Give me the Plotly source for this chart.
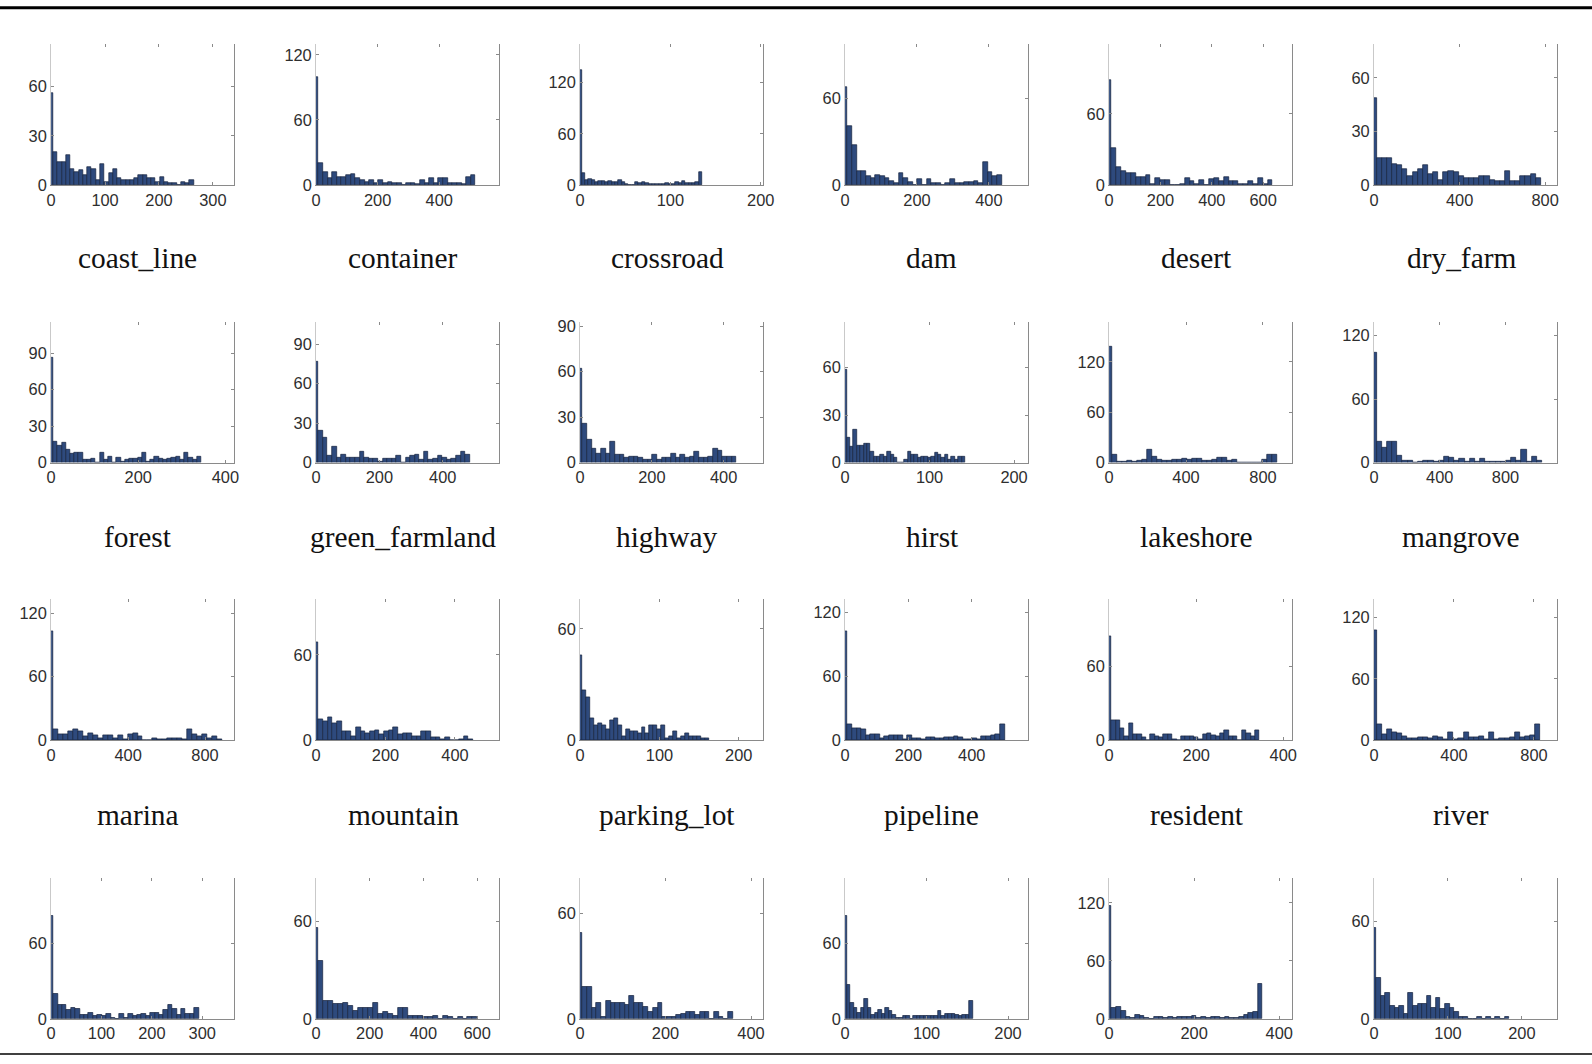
import plotly.graph_objects as go

# ---------------------------------------------------------------- data
categories = [
    "coast_line", "container", "crossroad", "dam", "desert", "dry_farm",
    "forest", "green_farmland", "highway", "hirst", "lakeshore", "mangrove",
    "marina", "mountain", "parking_lot", "pipeline", "resident", "river",
    "", "", "", "", "", "",
]

# histogram counts per class (first bin is centred on 0)
coast_line = [56, 20, 14, 14, 18, 10, 8, 9, 6, 11, 10, 3, 13, 2, 7, 10, 4, 3, 3, 3,
              4, 6, 6, 4, 4, 2, 5, 2, 1, 1, 0, 2, 1, 3]
container = [100, 20, 12, 6, 12, 7, 7, 9, 10, 6, 5, 3, 5, 2, 5, 2, 3, 2, 2, 0,
             2, 2, 1, 5, 2, 6, 2, 6, 6, 2, 2, 2, 1, 7, 9]
crossroad = [135, 14, 6, 7, 6, 4, 5, 5, 3, 5, 3, 4, 6, 3, 1, 0, 0, 4, 2, 4,
             2, 1, 1, 1, 1, 1, 2, 1, 1, 3, 2, 5, 2, 2, 2, 3, 15]
dam = [68, 41, 28, 10, 10, 6, 5, 7, 6, 5, 3, 1, 8, 5, 2, 0, 4, 0, 4, 1,
       1, 0, 1, 4, 1, 1, 2, 2, 3, 1, 16, 9, 6, 7]
desert = [89, 31, 15, 12, 10, 10, 7, 7, 8, 1, 6, 4, 4, 0, 0, 1, 6, 3, 1, 4,
          0, 5, 6, 3, 7, 3, 3, 1, 1, 3, 1, 6, 1, 4]
dry_farm = [49, 15, 15, 15, 12, 11, 9, 5, 7, 9, 11, 6, 7, 3, 7, 8, 7, 5, 4, 4,
            4, 5, 5, 3, 2, 2, 8, 2, 2, 5, 5, 6, 4]
forest = [86, 17, 14, 16, 11, 7, 8, 8, 2, 2, 3, 0, 8, 2, 5, 0, 4, 1, 2, 3,
          3, 4, 8, 1, 2, 5, 3, 2, 3, 4, 5, 2, 8, 4, 2, 5]
green_farmland = [77, 24, 19, 5, 12, 4, 6, 4, 4, 4, 8, 4, 3, 3, 1, 3, 3, 3, 5, 0,
                  4, 5, 6, 2, 8, 2, 3, 5, 4, 2, 3, 5, 8, 6]
highway = [62, 26, 15, 9, 6, 9, 6, 14, 5, 5, 3, 4, 4, 3, 2, 2, 5, 2, 3, 3,
           6, 3, 5, 3, 4, 7, 3, 3, 4, 9, 8, 4, 4, 4]
hirst = [59, 16, 10, 21, 11, 11, 12, 12, 7, 4, 4, 5, 4, 7, 5, 3, 0, 0, 2, 7,
         5, 5, 3, 4, 4, 3, 4, 6, 5, 3, 5, 2, 4, 2, 4, 4]
lakeshore = [138, 10, 1, 1, 2, 1, 2, 3, 15, 7, 3, 2, 2, 3, 4, 5, 4, 5, 5, 2,
             2, 3, 6, 6, 2, 3, 0, 0, 0, 0, 0, 4, 9, 9]
mangrove = [104, 20, 14, 20, 20, 7, 2, 2, 0, 1, 2, 2, 1, 2, 6, 5, 2, 4, 1, 4,
            1, 4, 1, 1, 1, 1, 2, 5, 2, 12, 1, 6, 2]
marina = [103, 10, 6, 6, 8, 10, 8, 4, 7, 5, 2, 5, 5, 2, 5, 1, 6, 7, 4, 0,
          0, 2, 1, 1, 2, 2, 2, 1, 10, 6, 4, 6, 2, 4, 1]
mountain = [69, 15, 13, 16, 12, 13, 6, 6, 3, 9, 6, 5, 6, 7, 4, 6, 7, 9, 4, 5,
            5, 3, 3, 6, 6, 2, 2, 1, 2, 0, 0, 1, 3, 1]
parking_lot = [46, 27, 23, 12, 8, 9, 8, 6, 11, 12, 8, 2, 6, 5, 5, 4, 7, 4, 8, 8,
               6, 8, 1, 2, 5, 1, 2, 4, 2, 2, 2, 1, 1]
pipeline = [102, 15, 11, 11, 10, 5, 6, 6, 2, 4, 5, 5, 5, 1, 5, 2, 2, 1, 3, 3,
            2, 2, 3, 3, 4, 3, 1, 1, 2, 1, 4, 4, 5, 6, 15]
resident = [84, 16, 16, 10, 3, 14, 5, 5, 2, 0, 5, 3, 2, 5, 5, 1, 0, 3, 3, 3,
            2, 1, 5, 6, 4, 3, 6, 8, 3, 3, 0, 8, 6, 3, 8]
river = [108, 16, 6, 11, 8, 7, 4, 2, 2, 3, 3, 2, 4, 3, 1, 8, 1, 2, 8, 3,
         3, 4, 1, 8, 1, 2, 2, 3, 8, 3, 4, 5, 16]
bottom_1 = [82, 20, 11, 11, 7, 9, 8, 3, 3, 5, 2, 3, 2, 4, 1, 0, 4, 1, 4, 2,
            3, 4, 2, 5, 5, 3, 7, 11, 8, 3, 8, 4, 4, 9]
bottom_2 = [56, 36, 11, 11, 9, 9, 10, 8, 5, 7, 7, 7, 10, 3, 4, 3, 2, 7, 7, 2,
            2, 2, 1, 1, 2, 0, 2, 1, 0, 1, 0, 1, 1]
bottom_3 = [49, 18, 18, 6, 9, 1, 10, 9, 9, 9, 8, 13, 9, 9, 7, 4, 6, 9, 1, 1,
            1, 2, 3, 4, 4, 2, 4, 4, 0, 4, 1, 0, 4]
bottom_4 = [82, 27, 13, 9, 5, 9, 16, 9, 3, 5, 7, 4, 9, 6, 3, 1, 1, 2, 2, 0,
            2, 2, 2, 2, 2, 2, 2, 6, 2, 4, 4, 4, 3, 2, 3, 3, 14]
bottom_5 = [117, 11, 12, 8, 2, 1, 4, 3, 1, 0, 2, 2, 1, 2, 1, 2, 2, 2, 3, 1,
            2, 1, 2, 2, 1, 2, 1, 1, 2, 4, 6, 7, 36]
bottom_6 = [56, 25, 14, 16, 8, 7, 8, 3, 16, 8, 9, 9, 14, 7, 13, 6, 9, 7, 4, 1,
            1, 0, 0, 1, 0, 1, 0, 1, 0, 1]

bin_widths = [7.9, 15, 3.7, 13, 19, 24,
              9.7, 14.5, 13, 4, 26, 31.5,
              25.7, 13.5, 5, 14.6, 10, 25.6,
              8.75, 18.5, 11, 4.3, 11.1, 6.2]

x_limits = [340, 595, 203, 510, 714, 857,
            421, 579, 511, 217, 953, 1116,
            953, 528, 231, 579, 421, 917,
            364, 683, 429, 225, 431, 248]
y_limits = [86, 130, 165, 98, 119, 79,
            116, 107, 93, 89, 168, 133,
            133, 99, 76, 132, 114, 138,
            112, 87, 80, 112, 146, 87]

x_ticks = [[0, 100, 200, 300], [0, 200, 400], [0, 100, 200], [0, 200, 400], [0, 200, 400, 600], [0, 400, 800],
           [0, 200, 400], [0, 200, 400], [0, 200, 400], [0, 100, 200], [0, 400, 800], [0, 400, 800],
           [0, 400, 800], [0, 200, 400], [0, 100, 200], [0, 200, 400], [0, 200, 400], [0, 400, 800],
           [0, 100, 200, 300], [0, 200, 400, 600], [0, 200, 400], [0, 100, 200], [0, 200, 400], [0, 100, 200]]
y_ticks = [[0, 30, 60], [0, 60, 120], [0, 60, 120], [0, 60], [0, 60], [0, 30, 60],
           [0, 30, 60, 90], [0, 30, 60, 90], [0, 30, 60, 90], [0, 30, 60], [0, 60, 120], [0, 60, 120],
           [0, 60, 120], [0, 60], [0, 60], [0, 60, 120], [0, 60], [0, 60, 120],
           [0, 60], [0, 60], [0, 60], [0, 60], [0, 60, 120], [0, 60]]

counts = [coast_line, container, crossroad, dam, desert, dry_farm,
          forest, green_farmland, highway, hirst, lakeshore, mangrove,
          marina, mountain, parking_lot, pipeline, resident, river,
          bottom_1, bottom_2, bottom_3, bottom_4, bottom_5, bottom_6]

# ---------------------------------------------------------------- layout (pixels)
W, H = 1592, 1064
col_left = [46.6, 314.2, 580.9, 848.6, 1115.3, 1382.9]
plot_w = 185.2
row_top = [39.6, 320.9, 602.2, 884.5]
plot_h = 142.8
label_x = [134.2, 402.4, 669.1, 936.3, 1203.4, 1471.1]
label_y = [256.6, 539.3, 820.8]

BAR = "#2e4a7d"
EDGE = "#15223d"
AXIS = "#8a8a8a"
AXIS_LEFT = "#c9c9c9"
TICK_FONT = dict(family="Liberation Sans, Arial, sans-serif", size=16.4, color="#2e2e2e")
LABEL_FONT = dict(family="Liberation Serif, Times New Roman, serif", size=29.4, color="#111111")

fig = go.Figure()
layout = dict(
    width=W, height=H, margin=dict(l=0, r=0, t=0, b=0),
    paper_bgcolor="white", plot_bgcolor="white",
    showlegend=False, bargap=0,
)

annotations = []
for k in range(24):
    r, c = divmod(k, 6)
    s = "" if k == 0 else str(k + 1)
    s2 = str(k + 25)
    x0 = col_left[c] / W
    x1 = (col_left[c] + plot_w) / W
    y1 = 1 - row_top[r] / H
    y0 = 1 - (row_top[r] + plot_h) / H

    w = bin_widths[k]
    centers = [i * w for i in range(len(counts[k]))]
    fig.add_trace(go.Bar(
        x=centers, y=counts[k], width=w,
        marker=dict(color=BAR, line=dict(color=EDGE, width=0.7)),
        xaxis="x" + s, yaxis="y" + s, hoverinfo="skip",
    ))
    # invisible point so the mirrored (top / right) axes get drawn
    fig.add_trace(go.Scatter(
        x=[0], y=[0], mode="markers", marker=dict(opacity=0, size=1),
        xaxis="x" + s2, yaxis="y" + s2, hoverinfo="skip",
    ))

    layout["xaxis" + s] = dict(
        domain=[x0, x1], anchor="y" + s, range=[0, x_limits[k]],
        tickvals=x_ticks[k], ticks="inside", ticklen=3, tickcolor=AXIS,
        showline=True, linecolor=AXIS, linewidth=1,
        showgrid=False, zeroline=False, tickfont=TICK_FONT, fixedrange=True,
    )
    layout["yaxis" + s] = dict(
        domain=[y0, y1], anchor="x" + s, range=[0, y_limits[k]],
        tickvals=y_ticks[k], ticks="inside", ticklen=3, tickcolor=AXIS,
        showline=True, linecolor=AXIS_LEFT, linewidth=1,
        showgrid=False, zeroline=False, tickfont=TICK_FONT, fixedrange=True,
    )
    # top tick marks without a border line
    layout["xaxis" + s2] = dict(
        overlaying="x" + s, anchor="y" + s, side="top", range=[0, x_limits[k]],
        tickvals=x_ticks[k], ticks="inside", ticklen=3, tickcolor=AXIS,
        showticklabels=False, showline=False, showgrid=False, zeroline=False,
        fixedrange=True,
    )
    # right border with tick marks
    layout["yaxis" + s2] = dict(
        overlaying="y" + s, anchor="x" + s, side="right", range=[0, y_limits[k]],
        tickvals=y_ticks[k], ticks="inside", ticklen=3, tickcolor=AXIS,
        showticklabels=False, showline=True, linecolor=AXIS, linewidth=1,
        showgrid=False, zeroline=False, fixedrange=True,
    )

    if categories[k] and r < 3:
        annotations.append(dict(
            text=categories[k], xref="paper", yref="paper",
            x=label_x[c] / W, y=1 - label_y[r] / H,
            xanchor="center", yanchor="middle", showarrow=False, font=LABEL_FONT,
        ))

layout["annotations"] = annotations
layout["shapes"] = [
    dict(type="line", xref="paper", yref="paper", x0=-0.01, x1=1.01,
         y0=1 - 2.8 / H, y1=1 - 2.8 / H, line=dict(color="black", width=3)),
    dict(type="line", xref="paper", yref="paper", x0=-0.01, x1=1.01,
         y0=1 - 1063 / H, y1=1 - 1063 / H, line=dict(color="black", width=1.5)),
]
fig.update_layout(**layout)
fig.write_html("out.html")
